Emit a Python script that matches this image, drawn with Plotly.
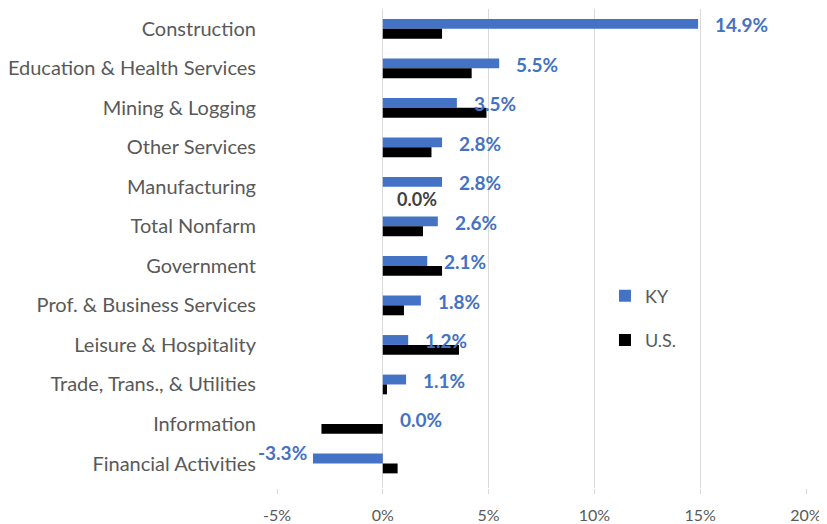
import plotly.graph_objects as go

categories = ["Construction", "Education & Health Services", "Mining & Logging", "Other Services",
              "Manufacturing", "Total Nonfarm", "Government", "Prof. & Business Services",
              "Leisure & Hospitality", "Trade, Trans., & Utilities", "Information", "Financial Activities"]
ky_values = [14.9, 5.5, 3.5, 2.8, 2.8, 2.6, 2.1, 1.8, 1.2, 1.1, 0.0, -3.3]
us_values = [2.8, 4.2, 4.9, 2.3, 0.0, 1.9, 2.8, 1.0, 3.6, 0.2, -2.9, 0.7]
x_ticks = [-5, 0, 5, 10, 15, 20]

BLUE = "#4472C4"
GRAY = "#595959"
FONT = "Lato"

fig = go.Figure()
fig.add_trace(go.Bar(y=categories, x=ky_values, orientation="h", name="KY",
                     marker=dict(color=BLUE, line=dict(width=0)), legendgroup="a"))
fig.add_trace(go.Bar(y=categories, x=us_values, orientation="h", name="U.S.",
                     marker=dict(color="#000000", line=dict(width=0)), legendgroup="b"))

annotations = []
for c, v in zip(categories, ky_values):
    if v >= 0:
        annotations.append(dict(x=v, y=c, xref="x", yref="y", text=f"{v:.1f}%", showarrow=False,
                                xanchor="left", yanchor="middle", xshift=15, yshift=4,
                                font=dict(family=FONT, size=19, color=BLUE, weight="bold")))
    else:
        annotations.append(dict(x=v, y=c, xref="x", yref="y", text=f"{v:.1f}%", showarrow=False,
                                xanchor="right", yanchor="middle", xshift=-4, yshift=11,
                                font=dict(family=FONT, size=19, color=BLUE, weight="bold")))
for c, v in zip(categories, us_values):
    if v == 0:
        annotations.append(dict(x=v, y=c, xref="x", yref="y", text=f"{v:.1f}%", showarrow=False,
                                xanchor="left", yanchor="middle", xshift=12, yshift=-12,
                                font=dict(family=FONT, size=18, color="#404040", weight="bold")))

fig.update_layout(
    width=827, height=524,
    margin=dict(l=269, r=29, t=1, b=44),
    paper_bgcolor="white", plot_bgcolor="white",
    barmode="group", bargap=0.5, bargroupgap=0,
    font=dict(family=FONT, size=20, color=GRAY),
    showlegend=True,
    legend=dict(x=0.62, y=0.355, xanchor="left", yanchor="middle", traceorder="grouped",
                tracegroupgap=18, font=dict(family=FONT, size=18, color=GRAY),
                bgcolor="rgba(0,0,0,0)", itemwidth=30),
    annotations=annotations,
)
fig.update_xaxes(range=[-5, 20], tickvals=x_ticks, ticktext=[f"{t}%" for t in x_ticks],
                 showgrid=True, gridcolor="#D9D9D9", gridwidth=1,
                 zeroline=True, zerolinecolor="#D9D9D9", zerolinewidth=1,
                 showline=False, ticks="outside", ticklen=5, tickcolor="#D9D9D9",
                 ticklabelstandoff=8,
                 tickfont=dict(family=FONT, size=16, color=GRAY), automargin=False)
fig.update_yaxes(autorange="reversed", showgrid=False, zeroline=False, showline=False,
                 ticks="", ticklabelstandoff=20, automargin=False,
                 tickfont=dict(family=FONT, size=20, color=GRAY))

fig.write_html("out.html")
